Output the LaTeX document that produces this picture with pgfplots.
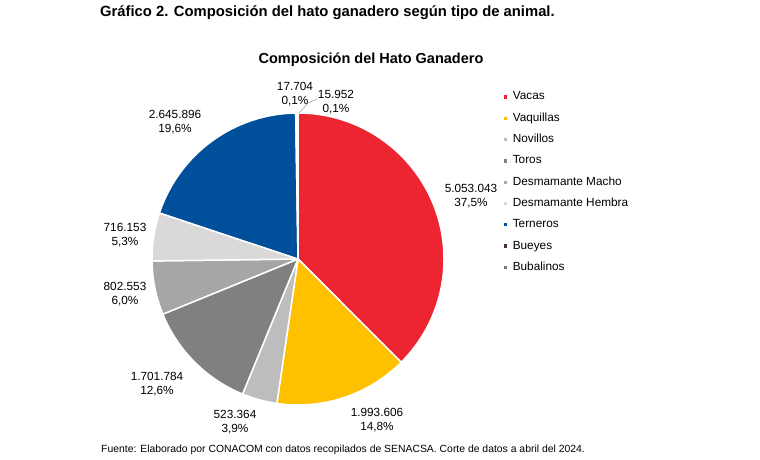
\documentclass[border=0pt]{standalone}
\usepackage{fontspec}
\setmainfont{Liberation Sans}
\usepackage{pgfplots}
\pgfplotsset{compat=1.18}

% Slice colours
\definecolor{cVacas}{HTML}{EC2530}
\definecolor{cVaquillas}{HTML}{FFC000}
\definecolor{cNovillos}{HTML}{BDBDBD}
\definecolor{cToros}{HTML}{808080}
\definecolor{cDMacho}{HTML}{A6A6A6}
\definecolor{cDHembra}{HTML}{D9D9D9}
\definecolor{cTerneros}{HTML}{004F9B}
\definecolor{cBueyes}{HTML}{4A2F3F}
\definecolor{cBubalinos}{HTML}{7A7A6A}

% Pie geometry (axis units = 1pt)
\newcommand\pieCX{298}
\newcommand\pieCY{201}
\newcommand\pieR{146}
\newcommand\total{13470055}
\gdef\cum{0}

\pgfplotsset{pie legend/.style={legend image code/.code={\fill[##1] (0pt,-2.4pt) rectangle (4.8pt,2.4pt);}}}

% One slice: value, colour, legend text (clockwise from 12 o'clock)
\newcommand\pieslice[3]{%
  \xdef\angA{\fpeval{round(90-360*\cum/\total,4)}}%
  \xdef\cum{\fpeval{\cum+#1}}%
  \xdef\angB{\fpeval{round(90-360*\cum/\total,4)}}%
  \xdef\xA{\fpeval{round(\pieCX+\pieR*cosd(\angA),3)}}%
  \xdef\yA{\fpeval{round(\pieCY+\pieR*sind(\angA),3)}}%
  \edef\temp{\noexpand\addplot[fill=#2, draw=white, line width=1.5pt, line join=round, pie legend]
    coordinates {(\pieCX,\pieCY)} -- (axis cs:\xA,\yA)
    arc[start angle=\angA, end angle=\angB, radius=\pieR pt] -- cycle;}%
  \temp
  \addlegendentry{#3}%
}

\begin{document}
\begin{tikzpicture}
\useasboundingbox (0,0) rectangle (760pt,460pt);
\begin{axis}[
  scale only axis, width=760pt, height=460pt,
  xmin=0, xmax=760, ymin=0, ymax=460,
  hide axis, clip=false,
  legend style={draw=none, fill=none, inner sep=0pt, outer sep=0pt,
    at={(axis cs:502.5,369)}, anchor=north west,
    font=\fontsize{11.8}{13}\selectfont,
    row sep=9.3pt, column sep=4pt,
    nodes={inner sep=0pt, text height=9pt, text depth=3pt}},
  legend cell align=left,
]
\pieslice{5053043}{cVacas}{Vacas}
\pieslice{1993606}{cVaquillas}{Vaquillas}
\pieslice{523364}{cNovillos}{Novillos}
\pieslice{1701784}{cToros}{Toros}
\pieslice{802553}{cDMacho}{Desmamante Macho}
\pieslice{716153}{cDHembra}{Desmamante Hembra}
\pieslice{2645896}{cTerneros}{Terneros}
\pieslice{17704}{cBueyes}{Bueyes}
\pieslice{15952}{cBubalinos}{Bubalinos}

% leader line for the two small slices
\addplot[gray!70, line width=0.6pt, forget plot] coordinates {(299,347) (308,357) (317,361)};

% data labels
\begin{scope}[every node/.style={align=center, font=\fontsize{11.8}{14}\selectfont, inner sep=0pt}]
\node at (axis cs:471,263.5) {5.053.043\\37,5\%};
\node at (axis cs:377,39.5) {1.993.606\\14,8\%};
\node at (axis cs:235,37.5) {523.364\\3,9\%};
\node at (axis cs:157,76) {1.701.784\\12,6\%};
\node at (axis cs:125,166) {802.553\\6,0\%};
\node at (axis cs:125,225) {716.153\\5,3\%};
\node at (axis cs:175,338) {2.645.896\\19,6\%};
\node at (axis cs:295,365.5) {17.704\\0,1\%};
\node at (axis cs:336,358) {15.952\\0,1\%};
\end{scope}

% titles and source
\node[anchor=west, inner sep=0pt, font=\bfseries\fontsize{14.8}{16}\selectfont] at (axis cs:100,447) {Gráfico 2. Composición del hato ganadero según tipo de animal.};
\node[inner sep=0pt, font=\bfseries\fontsize{14.5}{16}\selectfont] at (axis cs:371,400) {Composición del Hato Ganadero};
\node[anchor=west, inner sep=0pt, font=\fontsize{10.4}{12}\selectfont] at (axis cs:101,10) {Fuente: Elaborado por CONACOM con datos recopilados de SENACSA. Corte de datos a abril del 2024.};
\end{axis}
\end{tikzpicture}
\end{document}
